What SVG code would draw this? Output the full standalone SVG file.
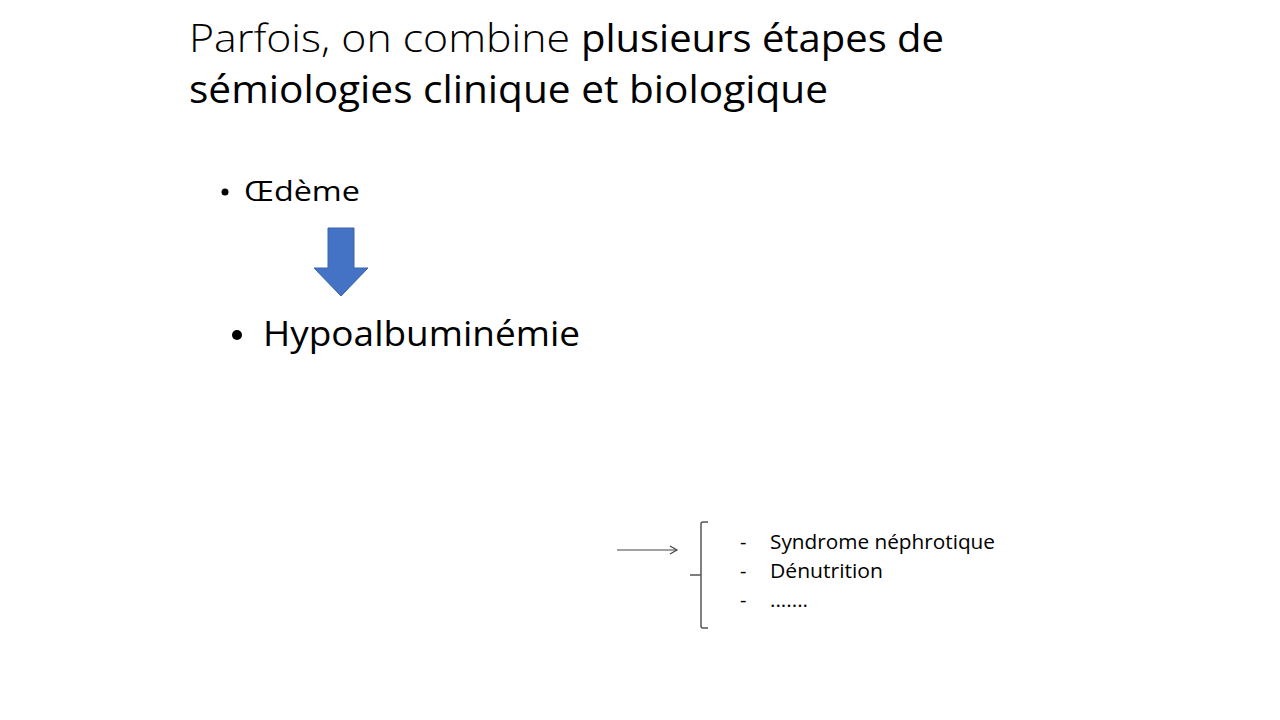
<svg xmlns="http://www.w3.org/2000/svg" width="1280" height="720" viewBox="0 0 1280 720">
<style>
text{font-family:"Open Sans","Noto Sans","Liberation Sans",sans-serif;fill:#000}
.t{font-size:38px}
.l{font-weight:300}
.r{font-weight:400}
.s{font-size:20px}
.br{fill:none;stroke:#555;stroke-width:1.5}
</style>
<defs>
<marker id="open" markerWidth="10" markerHeight="10" refX="8" refY="5" orient="auto" markerUnits="userSpaceOnUse">
<path d="M1,1 L8,5 L1,9" fill="none" stroke="#444" stroke-width="1.2"/>
</marker>
</defs>
<rect width="1280" height="720" fill="#fff"/>
<g id="title">
<text class="t l" x="189" y="52" textLength="381" lengthAdjust="spacingAndGlyphs">Parfois, on combine</text>
<text class="t r" x="581" y="52" textLength="363" lengthAdjust="spacingAndGlyphs">plusieurs étapes de</text>
<text class="t r" x="189" y="103" textLength="639" lengthAdjust="spacingAndGlyphs">sémiologies clinique et biologique</text>
</g>
<g id="oedeme">
<circle cx="225" cy="192" r="3.5" fill="#000"/>
<text x="244" y="201" font-size="28" textLength="116" lengthAdjust="spacingAndGlyphs">Œdème</text>
</g>
<g id="hypo">
<circle cx="237" cy="335" r="5" fill="#000"/>
<text x="263" y="346" font-size="35" textLength="317" lengthAdjust="spacingAndGlyphs">Hypoalbuminémie</text>
</g>
<g id="connectors">
<path id="bigarrow" d="M328,228 L354,228 L354,268 L368,268 L341,296 L314,268 L328,268 Z" fill="#4472C4" stroke="#3A62AA" stroke-width="1"/>
<line x1="617" y1="550" x2="677" y2="550" stroke="#444" stroke-width="1.2" marker-end="url(#open)"/>
</g>
<g id="causes">
<path class="br" d="M708,522 L703,522 Q701,522 701,524 L701,626 Q701,628 703,628 L708,628 M690,575 L701,575"/>
<text class="s" x="740" y="549">-</text>
<text class="s" x="770" y="549" textLength="225" lengthAdjust="spacingAndGlyphs">Syndrome néphrotique</text>
<text class="s" x="740" y="578">-</text>
<text class="s" x="770" y="578" textLength="113" lengthAdjust="spacingAndGlyphs">Dénutrition</text>
<text class="s" x="740" y="607">-</text>
<text class="s" x="770" y="607" textLength="38" lengthAdjust="spacingAndGlyphs">.......</text>
</g>
</svg>
